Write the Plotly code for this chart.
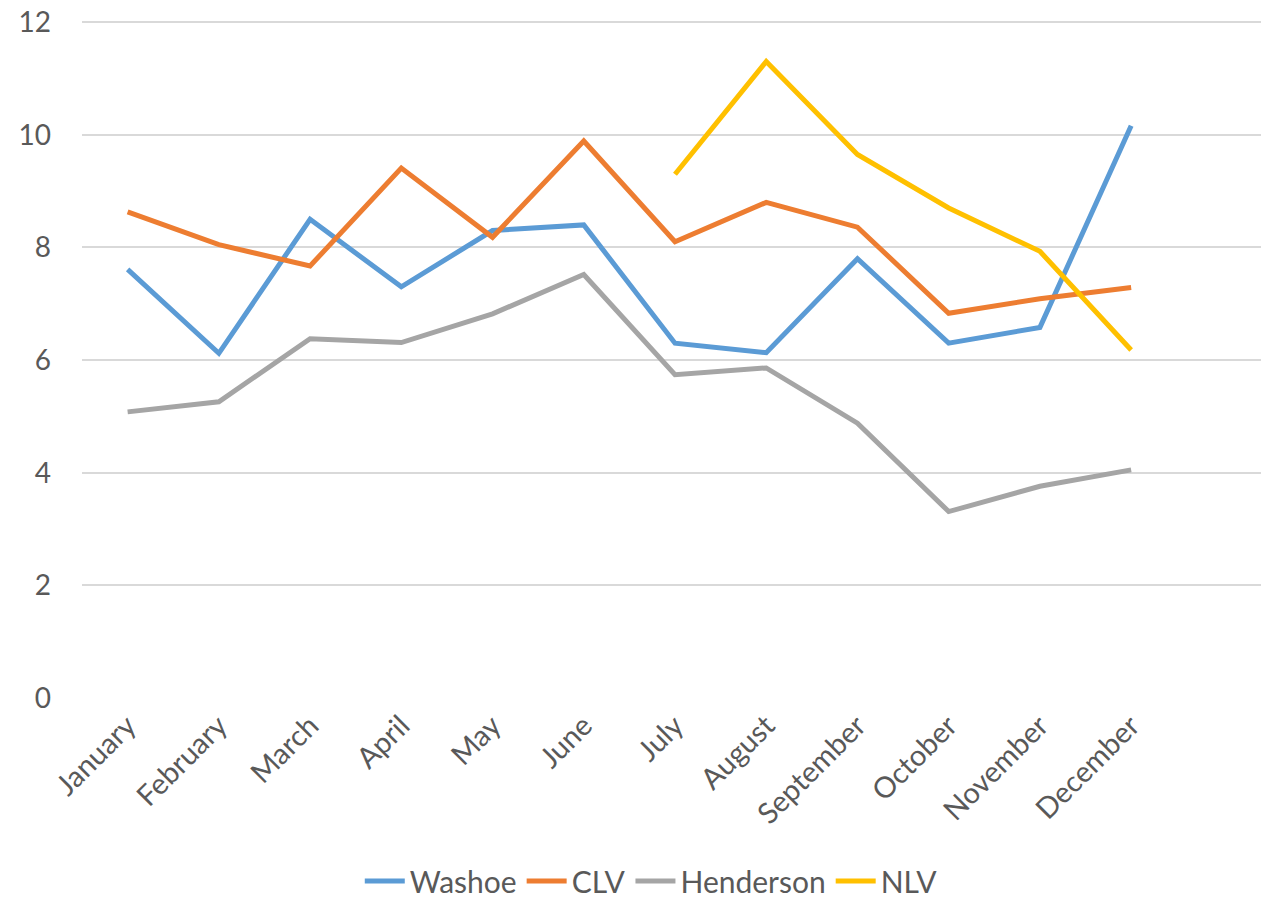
import plotly.graph_objects as go

months = ["January", "February", "March", "April", "May", "June", "July",
          "August", "September", "October", "November", "December"]
washoe = [7.61, 6.12, 8.50, 7.30, 8.30, 8.40, 6.30, 6.13, 7.80, 6.30, 6.58, 10.16]
clv = [8.63, 8.05, 7.67, 9.41, 8.18, 9.89, 8.10, 8.80, 8.36, 6.83, 7.09, 7.29]
henderson = [5.08, 5.26, 6.38, 6.31, 6.82, 7.52, 5.74, 5.86, 4.88, 3.31, 3.76, 4.05]
nlv = [None, None, None, None, None, None, 9.30, 11.30, 9.65, 8.70, 7.93, 6.18]
y_ticks = [0, 2, 4, 6, 8, 10, 12]

series = [("Washoe", washoe, "#5B9BD5"), ("CLV", clv, "#ED7D31"),
          ("Henderson", henderson, "#A5A5A5"), ("NLV", nlv, "#FFC000")]

fig = go.Figure()
for name, vals, color in series:
    fig.add_trace(go.Scatter(x=list(range(len(months))), y=vals, name=name, mode="lines",
                             line=dict(color=color, width=5), connectgaps=False))

font_family = "Lato, 'Open Sans', sans-serif"
# page body has an 8px margin, so the figure is sized/offset to compensate
fig.update_layout(
    width=1261, height=894,
    paper_bgcolor="white", plot_bgcolor="white",
    margin=dict(l=74, r=1, t=13, b=204, autoexpand=False),
    font=dict(family=font_family, color="#595959", size=24),
    showlegend=True,
    legend=dict(orientation="h", x=0.48, xanchor="center", y=-0.232, yanchor="top",
                font=dict(size=30, color="#595959"), itemwidth=40, tracegroupgap=0),
    xaxis=dict(range=[-0.5, 12.5], tickmode="array", tickvals=list(range(len(months))),
               ticktext=months, tickangle=-45, showgrid=False, zeroline=False,
               showline=False, ticks="", automargin=False, ticklabelstandoff=4,
               ticklabeloverflow="allow",
               tickfont=dict(size=29, color="#595959")),
    yaxis=dict(range=[0, 12.02], tickvals=y_ticks, showgrid=True, gridcolor="#D9D9D9",
               gridwidth=1.5, zeroline=False, showline=False, ticks="", automargin=False,
               ticklabeloverflow="allow",
               tickfont=dict(size=28, color="#595959"), ticklabelstandoff=30),
)
fig.write_html("out.html")
